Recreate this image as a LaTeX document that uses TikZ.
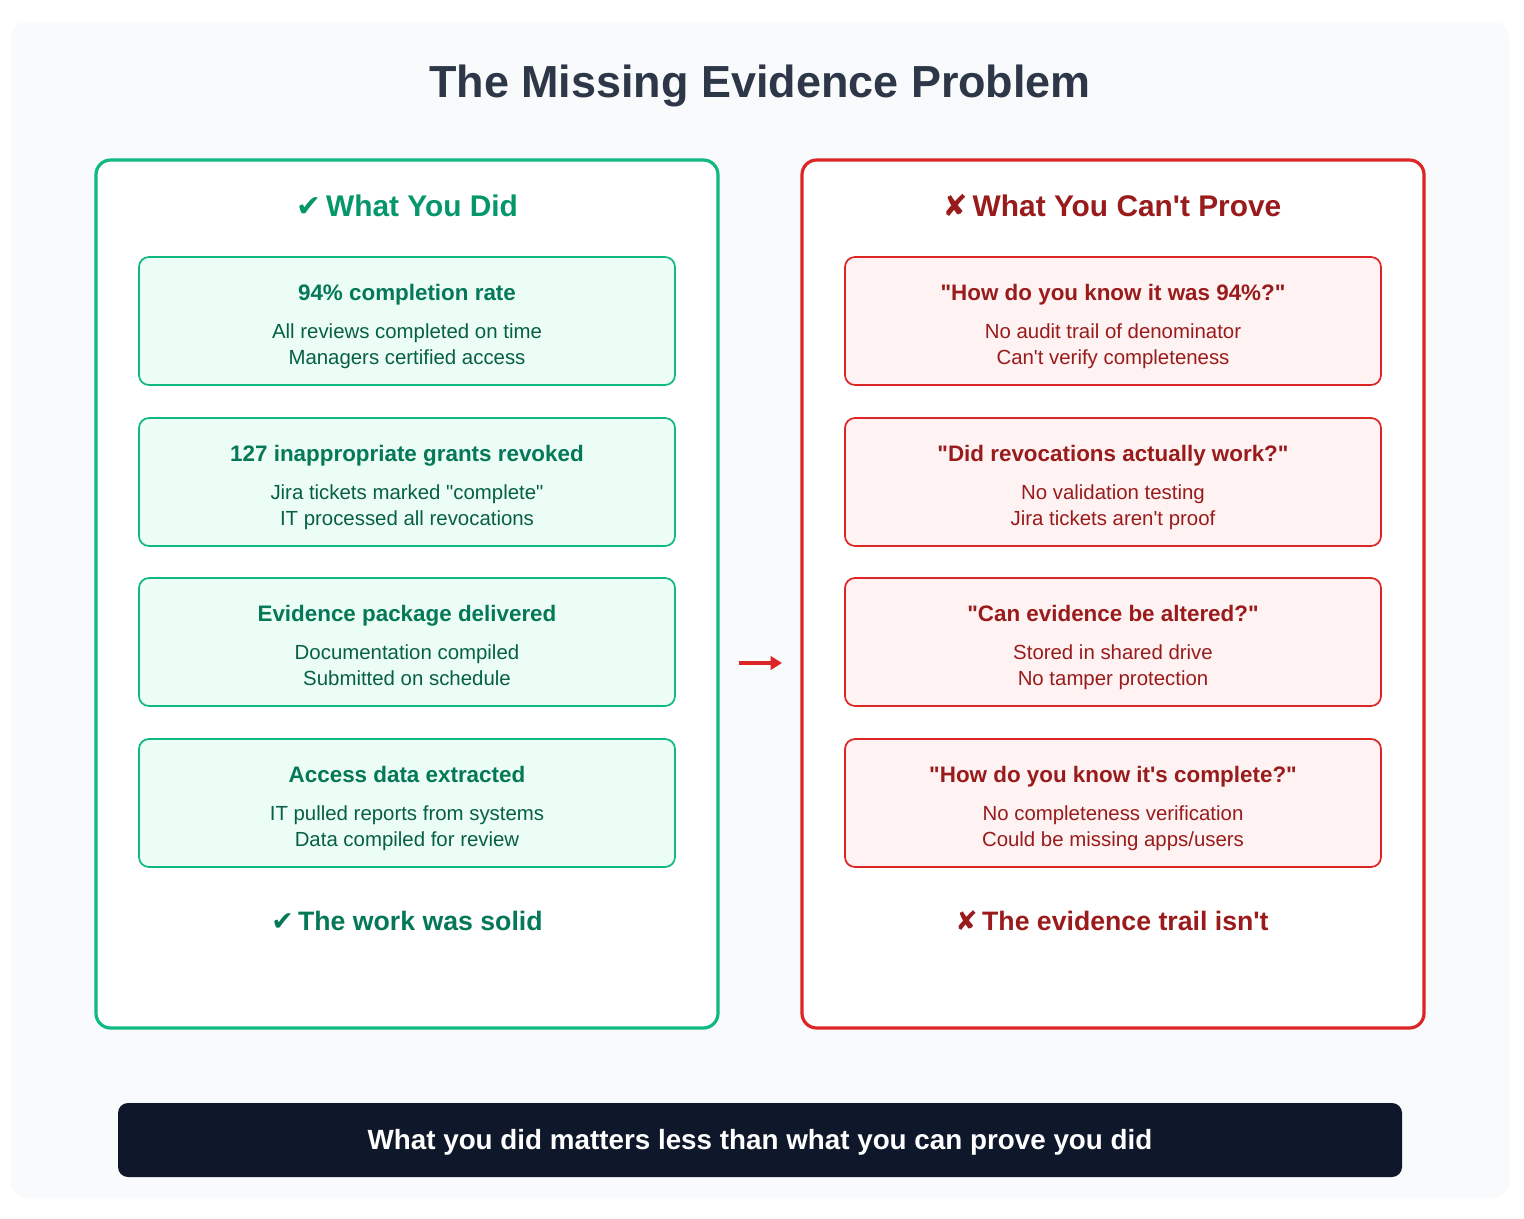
\documentclass[tikz,border=0pt]{standalone}
\usepackage{fontspec}
\setmainfont{Liberation Sans}[Ligatures=TeXOff]
\newfontfamily\symfont{DejaVu Sans}
\usetikzlibrary{arrows.meta}
\definecolor{bgc}{HTML}{F8FAFC}
\definecolor{titlec}{HTML}{2D3748}
\definecolor{gborder}{HTML}{10B981}
\definecolor{gfill}{HTML}{ECFDF5}
\definecolor{ghead}{HTML}{059669}
\definecolor{gtitle}{HTML}{047857}
\definecolor{gbody}{HTML}{065F46}
\definecolor{rborder}{HTML}{DC2626}
\definecolor{rfill}{HTML}{FEF2F2}
\definecolor{rtext}{HTML}{991B1B}
\definecolor{darkbar}{HTML}{0F172A}
\tikzset{
  panelbox/.style={draw, line width=2.4pt, fill=white, rounded corners=11pt, minimum width=466.5pt, minimum height=651pt, inner sep=0pt},
  cardbox/.style={draw, line width=1.3pt, rounded corners=7.5pt, minimum width=402pt, minimum height=96pt, inner sep=0pt},
  gcard/.style={cardbox, draw=gborder, fill=gfill},
  rcard/.style={cardbox, draw=rborder, fill=rfill},
  cardtitle/.style={font=\bfseries\fontsize{16.8}{20}\selectfont, inner sep=0pt, anchor=center, text height=0.72em, text depth=0.21em},
  cardbody/.style={font=\fontsize{15.3}{19.5}\selectfont, inner sep=0pt, anchor=center, text height=0.72em, text depth=0.21em},
  headtext/.style={font=\bfseries\fontsize{22.4}{26}\selectfont, inner sep=0pt},
  foottext/.style={font=\bfseries\fontsize{20}{24}\selectfont, inner sep=0pt},
}
\newcommand{\gcardnode}[5]{%
  \node[gcard] (#1) at (407,#2) {};
  \node[cardtitle, text=gtitle] (#1t) at ([yshift=18pt]#1.center) {#3};
  \node[cardbody, text=gbody] (#1a) at ([yshift=-10.5pt]#1.center) {#4};
  \node[cardbody, text=gbody] (#1b) at ([yshift=-30.3pt]#1.center) {#5};
}
\newcommand{\rcardnode}[5]{%
  \node[rcard] (#1) at (1113,#2) {};
  \node[cardtitle, text=rtext] (#1t) at ([yshift=18pt]#1.center) {#3};
  \node[cardbody, text=rtext] (#1a) at ([yshift=-10.5pt]#1.center) {#4};
  \node[cardbody, text=rtext] (#1b) at ([yshift=-30.3pt]#1.center) {#5};
}
\begin{document}
\begin{tikzpicture}[x=0.75pt, y=-0.75pt]
\useasboundingbox (0,0) rectangle (1524,1218);
\fill[white] (0,0) rectangle (1524,1218);
\fill[bgc, rounded corners=12pt] (11,22) rectangle (1509,1198);

\node[font=\bfseries\fontsize{33.7}{38}\selectfont, text=titlec, inner sep=0pt] (title) at (760,86) {The Missing Evidence Problem};

\node[panelbox, draw=gborder] (lp) at (407,594) {};
\node[panelbox, draw=rborder] (rp) at (1113,594) {};

\node[headtext, text=ghead] (lh) at (407,206) {{\symfont ✔}\,What You Did};
\node[headtext, text=rtext] (rh) at (1112,206) {{\symfont ✘}\,What You Can't Prove};

\gcardnode{g1}{321}{94\% completion rate}{All reviews completed on time}{Managers certified access}
\gcardnode{g2}{482}{127 inappropriate grants revoked}{Jira tickets marked "complete"}{IT processed all revocations}
\gcardnode{g3}{642}{Evidence package delivered}{Documentation compiled}{Submitted on schedule}
\gcardnode{g4}{803}{Access data extracted}{IT pulled reports from systems}{Data compiled for review}

\rcardnode{r1}{321}{"How do you know it was 94\%?"}{No audit trail of denominator}{Can't verify completeness}
\rcardnode{r2}{482}{"Did revocations actually work?"}{No validation testing}{Jira tickets aren't proof}
\rcardnode{r3}{642}{"Can evidence be altered?"}{Stored in shared drive}{No tamper protection}
\rcardnode{r4}{803}{"How do you know it's complete?"}{No completeness verification}{Could be missing apps/users}

\node[foottext, text=gtitle] (lf) at (407,921) {{\symfont ✔}\,The work was solid};
\node[foottext, text=rtext] (rf) at (1112,921) {{\symfont ✘}\,The evidence trail isn't};

\coordinate (arrS) at (739,663);
\coordinate (arrE) at (782,663);
\draw[rborder, line width=2.4pt, -{Triangle[length=8.5pt, width=10pt]}] (arrS) -- (arrE);

\node[fill=darkbar, rounded corners=7.5pt, minimum width=963pt, minimum height=55.5pt, inner sep=0pt] (bar) at (760,1140) {};
\node[text=white, inner sep=0pt, font=\bfseries\fontsize{20.85}{24}\selectfont] (bart) at ([yshift=-2pt]bar.center) {What you did matters less than what you can prove you did};
\end{tikzpicture}
\end{document}
